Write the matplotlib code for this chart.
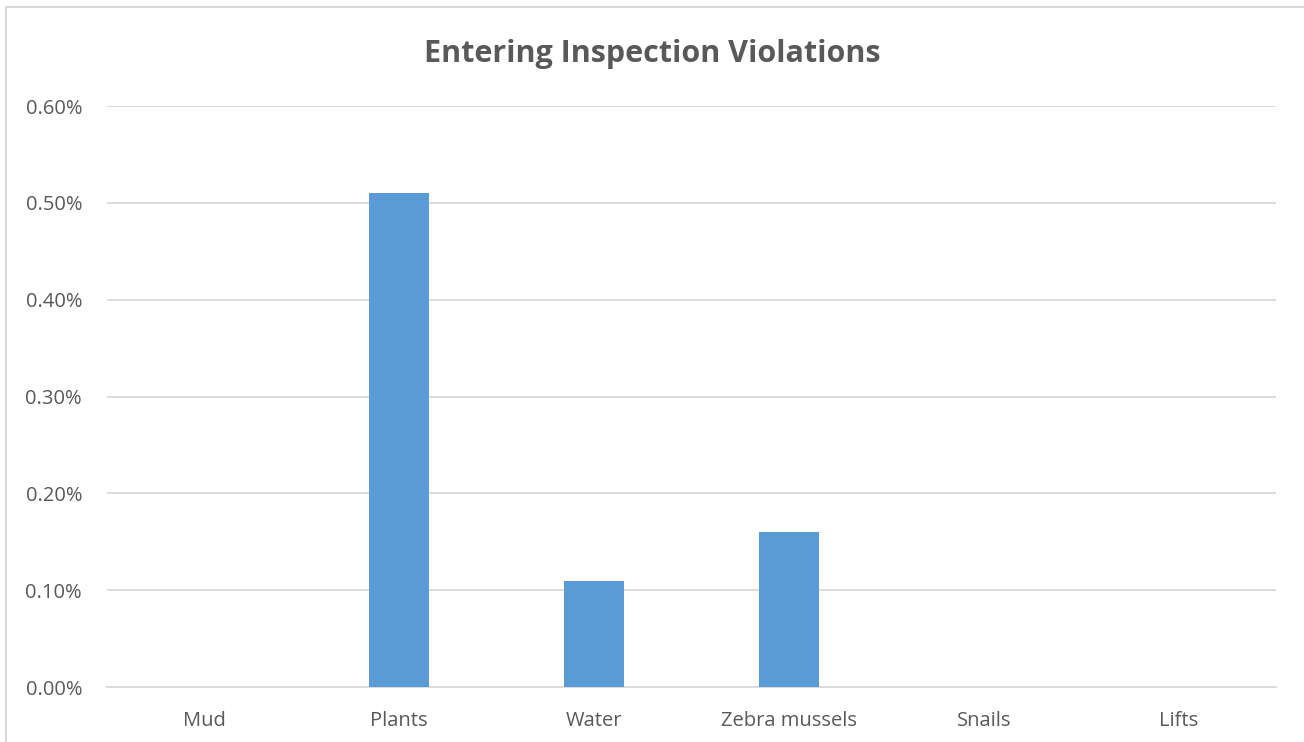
import matplotlib
matplotlib.use("Agg")
import matplotlib.pyplot as plt
from matplotlib.patches import Rectangle
from matplotlib.ticker import PercentFormatter

# data (percent)
categories = ["Mud", "Plants", "Water", "Zebra mussels", "Snails", "Lifts"]
violations = [0.0, 0.51, 0.11, 0.16, 0.0, 0.0]
y_ticks = [0.0, 0.1, 0.2, 0.3, 0.4, 0.5, 0.6]

text_color = "#595959"
grid_color = "#D9D9D9"
bar_color = "#5B9BD5"

plt.rcParams["font.family"] = ["Open Sans", "DejaVu Sans"]

fig = plt.figure(figsize=(13.04, 7.42), dpi=100)
ax = fig.add_axes([0.0821, 0.0741, 0.8964, 0.7830])

# chart border (only left and top show in the crop)
fig.patches.append(Rectangle((6 / 1304, -0.1), 1.2, 1 - 7 / 742 + 0.1,
                             transform=fig.transFigure, fill=False,
                             edgecolor=grid_color, linewidth=1.5))

x = range(len(categories))
ax.bar(x, violations, width=0.31, color=bar_color, zorder=3)

ax.set_xlim(-0.5, len(categories) - 0.5)
ax.set_ylim(0, 0.6)
ax.set_yticks(y_ticks)
ax.yaxis.set_major_formatter(PercentFormatter(decimals=2))
ax.set_xticks(list(x))
ax.set_xticklabels(categories)

ax.grid(axis="y", color=grid_color, linewidth=1.3, zorder=0)
for side in ["top", "right", "left"]:
    ax.spines[side].set_visible(False)
ax.spines["bottom"].set_color(grid_color)
ax.spines["bottom"].set_linewidth(1.3)
ax.tick_params(axis="both", length=0, labelsize=14.5, colors=text_color)
ax.tick_params(axis="y", pad=18)
ax.tick_params(axis="x", pad=17)

fig.text(0.5, 1 - 54 / 742, "Entering Inspection Violations", ha="center",
         va="center", fontsize=22, fontweight="bold", color=text_color)

fig.savefig("out.png", dpi=100)
